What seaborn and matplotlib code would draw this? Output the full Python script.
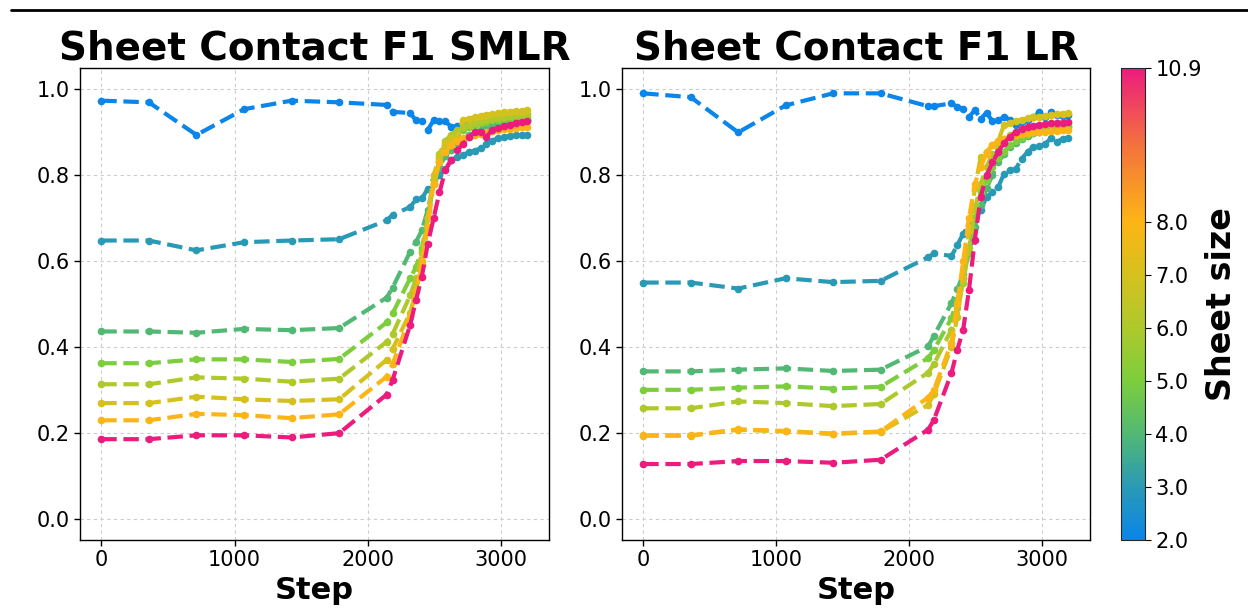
import numpy as np
import pandas as pd
import matplotlib
matplotlib.use("Agg")
import matplotlib.pyplot as plt
import seaborn as sns
from matplotlib.colors import LinearSegmentedColormap, Normalize
from matplotlib.cm import ScalarMappable
from matplotlib.lines import Line2D

sns.set_style("ticks")
plt.rcParams.update({
    "text.color": "black",
    "axes.labelcolor": "black",
    "axes.titlecolor": "black",
    "xtick.color": "black",
    "ytick.color": "black",
})

# --- data ---
steps = [0, 357, 714, 1071, 1428, 1785, 2142, 2186, 2318, 2362, 2406, 2450, 2494, 2538,
         2582, 2626, 2670, 2714, 2758, 2802, 2846, 2890, 2934, 2978, 3022, 3066, 3110, 3154, 3198]
sizes = [2.0, 3.0, 4.0, 5.0, 6.0, 7.0, 8.0, 10.9]

# SMLR panel
smlr_2 = [0.974, 0.970, 0.894, 0.954, 0.974, 0.970, 0.964, 0.948, 0.945, 0.928, 0.926, 0.906, 0.928, 0.926,
          0.926, 0.913, 0.914, 0.922, 0.925, 0.920, 0.925, 0.922, 0.926, 0.924, 0.927, 0.925, 0.928, 0.927, 0.928]
smlr_3 = [0.648, 0.648, 0.625, 0.644, 0.648, 0.651, 0.695, 0.708, 0.726, 0.744, 0.746, 0.769, 0.792, 0.800,
          0.815, 0.835, 0.843, 0.847, 0.854, 0.857, 0.863, 0.874, 0.881, 0.887, 0.890, 0.891, 0.893, 0.894, 0.895]
smlr_4 = [0.436, 0.436, 0.433, 0.442, 0.439, 0.444, 0.515, 0.538, 0.622, 0.645, 0.672, 0.720, 0.780, 0.820,
          0.845, 0.860, 0.875, 0.885, 0.893, 0.900, 0.905, 0.910, 0.915, 0.918, 0.921, 0.924, 0.926, 0.928, 0.930]
smlr_5 = [0.362, 0.362, 0.371, 0.371, 0.365, 0.372, 0.457, 0.478, 0.560, 0.586, 0.630, 0.700, 0.780, 0.840,
          0.870, 0.885, 0.895, 0.905, 0.912, 0.918, 0.922, 0.925, 0.928, 0.930, 0.932, 0.934, 0.935, 0.936, 0.937]
smlr_6 = [0.313, 0.313, 0.329, 0.326, 0.319, 0.326, 0.412, 0.430, 0.520, 0.560, 0.620, 0.700, 0.790, 0.850,
          0.880, 0.895, 0.905, 0.912, 0.918, 0.922, 0.926, 0.929, 0.932, 0.934, 0.936, 0.938, 0.940, 0.941, 0.942]
smlr_7 = [0.269, 0.269, 0.284, 0.278, 0.274, 0.278, 0.370, 0.395, 0.480, 0.530, 0.600, 0.700, 0.800, 0.845,
          0.875, 0.886, 0.890, 0.928, 0.932, 0.936, 0.939, 0.941, 0.943, 0.945, 0.947, 0.948, 0.950, 0.951, 0.952]
smlr_8 = [0.229, 0.229, 0.244, 0.241, 0.234, 0.243, 0.331, 0.360, 0.470, 0.530, 0.590, 0.680, 0.780, 0.830,
          0.855, 0.870, 0.880, 0.886, 0.890, 0.894, 0.897, 0.900, 0.903, 0.905, 0.907, 0.909, 0.911, 0.912, 0.913]
smlr_11 = [0.185, 0.185, 0.194, 0.194, 0.189, 0.199, 0.289, 0.323, 0.451, 0.509, 0.564, 0.640, 0.700, 0.760,
           0.812, 0.835, 0.858, 0.872, 0.889, 0.900, 0.902, 0.889, 0.906, 0.910, 0.914, 0.918, 0.921, 0.924, 0.926]

# LR panel
lr_2 = [0.991, 0.982, 0.900, 0.963, 0.991, 0.991, 0.961, 0.961, 0.968, 0.959, 0.955, 0.936, 0.952, 0.932,
        0.946, 0.926, 0.928, 0.936, 0.930, 0.918, 0.925, 0.930, 0.935, 0.947, 0.935, 0.947, 0.940, 0.938, 0.940]
lr_3 = [0.550, 0.550, 0.536, 0.560, 0.551, 0.554, 0.609, 0.618, 0.612, 0.637, 0.664, 0.684, 0.700, 0.719,
        0.750, 0.760, 0.773, 0.804, 0.812, 0.815, 0.839, 0.854, 0.867, 0.868, 0.873, 0.886, 0.878, 0.885, 0.886]
lr_4 = [0.343, 0.343, 0.347, 0.350, 0.344, 0.347, 0.401, 0.426, 0.502, 0.534, 0.570, 0.620, 0.680, 0.730,
        0.770, 0.800, 0.830, 0.850, 0.865, 0.875, 0.885, 0.892, 0.898, 0.902, 0.906, 0.909, 0.912, 0.914, 0.916]
lr_5 = [0.300, 0.300, 0.305, 0.308, 0.303, 0.307, 0.374, 0.393, 0.467, 0.510, 0.560, 0.620, 0.700, 0.760,
        0.790, 0.820, 0.840, 0.855, 0.870, 0.880, 0.887, 0.893, 0.898, 0.902, 0.905, 0.908, 0.910, 0.912, 0.913]
lr_6 = [0.257, 0.257, 0.273, 0.269, 0.262, 0.267, 0.340, 0.360, 0.440, 0.490, 0.550, 0.630, 0.720, 0.780,
        0.820, 0.850, 0.870, 0.885, 0.895, 0.900, 0.905, 0.910, 0.913, 0.916, 0.918, 0.920, 0.921, 0.922, 0.923]
lr_7 = [0.193, 0.193, 0.207, 0.203, 0.197, 0.202, 0.265, 0.290, 0.400, 0.470, 0.560, 0.670, 0.770, 0.843,
        0.855, 0.870, 0.880, 0.918, 0.922, 0.926, 0.930, 0.933, 0.935, 0.937, 0.939, 0.941, 0.942, 0.944, 0.945]
lr_8 = [0.194, 0.194, 0.208, 0.204, 0.198, 0.203, 0.282, 0.300, 0.410, 0.500, 0.600, 0.700, 0.780, 0.820,
        0.850, 0.870, 0.880, 0.885, 0.890, 0.893, 0.896, 0.898, 0.900, 0.901, 0.902, 0.903, 0.904, 0.905, 0.906]
lr_11 = [0.127, 0.127, 0.134, 0.134, 0.130, 0.137, 0.207, 0.230, 0.339, 0.393, 0.440, 0.533, 0.650, 0.750,
         0.800, 0.830, 0.855, 0.875, 0.890, 0.900, 0.907, 0.912, 0.915, 0.918, 0.920, 0.921, 0.922, 0.923, 0.924]

smlr = [smlr_2, smlr_3, smlr_4, smlr_5, smlr_6, smlr_7, smlr_8, smlr_11]
lr = [lr_2, lr_3, lr_4, lr_5, lr_6, lr_7, lr_8, lr_11]


def to_long(series):
    rows = []
    for size, vals in zip(sizes, series):
        for s, v in zip(steps, vals):
            rows.append({"step": s, "f1": v, "size": size})
    return pd.DataFrame(rows)


# colour map for sheet size
cmap = LinearSegmentedColormap.from_list("sheet", [
    (0.0, "#0a85e9"),
    ((3.0 - 2.0) / 8.9, "#2a9bb4"),
    ((4.0 - 2.0) / 8.9, "#52b874"),
    ((5.0 - 2.0) / 8.9, "#7dce3c"),
    ((6.0 - 2.0) / 8.9, "#aec92c"),
    ((7.0 - 2.0) / 8.9, "#d5c11e"),
    ((8.0 - 2.0) / 8.9, "#fdb515"),
    ((9.5 - 2.0) / 8.9, "#f3703e"),
    (1.0, "#ec1c7e"),
])
norm = Normalize(vmin=2.0, vmax=10.9)
palette = {s: cmap(norm(s)) for s in sizes}

fig = plt.figure(figsize=(12.48, 6.09), dpi=100)
ax1 = fig.add_axes([0.0641, 0.1133, 0.3758, 0.775])
ax2 = fig.add_axes([0.4984, 0.1133, 0.3750, 0.775])
cax = fig.add_axes([0.8982, 0.1133, 0.0192, 0.775])

for ax, series, title in [(ax1, smlr, "Sheet Contact F1 SMLR"), (ax2, lr, "Sheet Contact F1 LR")]:
    df = to_long(series)
    sns.lineplot(data=df, x="step", y="f1", hue="size", palette=palette, hue_order=sizes,
                 linestyle="--", linewidth=3, marker="o", markersize=5.5, markeredgewidth=0,
                 errorbar=None, legend=False, ax=ax)
    ax.set_title(title, fontsize=28, fontweight="bold", pad=6)
    ax.set_xlabel("Step", fontsize=22, fontweight="bold")
    ax.set_ylabel("")
    ax.set_ylim(-0.05, 1.05)
    ax.set_xlim(-160, 3360)
    ax.set_yticks([0.0, 0.2, 0.4, 0.6, 0.8, 1.0])
    ax.set_yticklabels(["0.0", "0.2", "0.4", "0.6", "0.8", "1.0"])
    ax.set_xticks([0, 1000, 2000, 3000])
    ax.tick_params(labelsize=15, length=4, width=1)
    ax.grid(True, linestyle=(0, (3, 3)), color="#cccccc", linewidth=0.8)
    for sp in ax.spines.values():
        sp.set_color("black")
        sp.set_linewidth(1)

sm = ScalarMappable(norm=norm, cmap=cmap)
cbar = fig.colorbar(sm, cax=cax, ticks=[2.0, 3.0, 4.0, 5.0, 6.0, 7.0, 8.0, 10.9])
cbar.ax.set_yticklabels(["2.0", "3.0", "4.0", "5.0", "6.0", "7.0", "8.0", "10.9"])
cbar.ax.tick_params(labelsize=15, length=4)
cbar.set_label("Sheet size", fontsize=24, fontweight="bold", labelpad=2)

# rule across the top
fig.add_artist(Line2D([0.009, 1.0], [0.984, 0.984], color="black", linewidth=2, transform=fig.transFigure))

fig.savefig("out.png", dpi=100)
